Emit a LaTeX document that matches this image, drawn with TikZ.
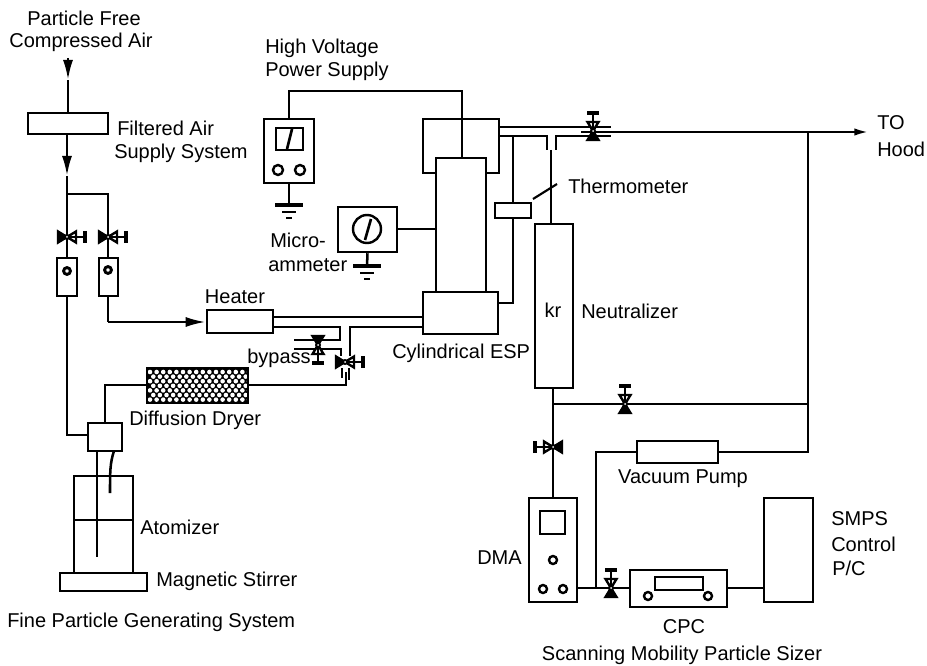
\documentclass[tikz,border=0pt]{standalone}
\usepackage{fontspec}
\setmainfont{Liberation Sans}
\usetikzlibrary{fit,arrows.meta}
\tikzset{
  eq/.style={draw=black,line width=1.9pt,fill=white,inner sep=0pt,rectangle},
  pipe/.style={draw=black,line width=1.9pt,line join=miter},
  lab/.style={inner sep=0pt,font=\fontsize{15}{17}\selectfont,text=black},
  flow/.style={pipe,-{Latex[length=15pt,width=7.5pt]}}
}
% box from two corners, as a named node
\newcommand\bx[5]{\coordinate (#1a) at (#2,#3);\coordinate (#1b) at (#4,#5);\node[eq,fit=(#1a)(#1b)] (#1) {};}
% valve: name x y rotation (rotation 0 = handle up)
\newcommand\valve[4]{\coordinate (#1) at (#2,#3);
  \begin{scope}[shift={(#2,#3)},rotate=#4]
    \draw[line width=1.8pt,fill=white] (0,0) -- (-5.5,-9) -- (5.5,-9) -- cycle;
    \draw[line width=1.8pt,fill=black] (0,0) -- (-5.5,9) -- (5.5,9) -- cycle;
    \draw[line width=1.9pt] (0,0) -- (0,-18);
    \draw[line width=2.3pt] (-6,-18) -- (6,-18);
    \fill[black] (0,0) circle (3);
    \fill[white] (0,0) circle (1);
  \end{scope}}
\newcommand\gnd[2]{\draw[line width=2.3pt] (#1-14,#2) -- (#1+14,#2);
  \draw[line width=2pt] (#1-7,#2+7) -- (#1+7,#2+7);
  \draw[line width=2pt] (#1-3,#2+13) -- (#1+3,#2+13);}
\begin{document}
\begin{tikzpicture}[x=0.75pt,y=-0.75pt]
\useasboundingbox[fill=white] (0,0) rectangle (927,666);

% ---------- equipment
\bx{filter}{28}{113}{108}{134}
\bx{fmL}{57}{258}{77}{296}
\bx{fmR}{99}{258}{118}{296}
\bx{heater}{207}{310}{273}{333}
\bx{dryer}{147}{368}{248}{403}
\bx{mixer}{88}{423}{122}{451}
\bx{plate}{60}{573}{147}{591}
\bx{hv}{264}{119}{314}{183}
\bx{micro}{338}{207}{397}{252}
\bx{esptop}{423}{119}{499}{173}
\bx{espbot}{423}{292}{498}{334}
\bx{thermo}{495}{203}{531}{218}
\bx{neut}{535}{224}{573}{388}
\bx{pump}{637}{441}{718}{463}
\bx{dma}{529}{498}{577}{602}
\bx{cpc}{630}{570}{727}{607}
\bx{smps}{764}{498}{813}{602}

% ---------- dryer packing
\begin{scope}
  \clip (147,368) rectangle (248,403);
  \fill[black] (147,368) rectangle (248,403);
  \foreach \r in {0,...,6}{
    \foreach \c in {0,...,15}{
      \pgfmathsetmacro{\px}{150+\c*6.6+mod(\r,2)*3.3}
      \pgfmathsetmacro{\py}{372+\r*4.6}
      \fill[white] (\px,\py) circle (2.3);
    }
  }
\end{scope}
\draw[black,line width=1.9pt] (147,368) rectangle (248,403);

% ---------- air supply
\coordinate (in) at (68,58);
\coordinate (a1) at (68,80);
\coordinate (a2) at (67,176);
\coordinate (j1) at (67,194);
\coordinate (j2) at (108,194);
\coordinate (j3) at (67,435);
\coordinate (h1) at (108,322);
\draw[flow] (in) -- (a1);
\draw[pipe] (a1) -- (filter.north -| a1);
\draw[flow] (filter.south -| a2) -- (a2);
\draw[pipe] (a2) -- (j1) -- (fmL.north -| j1);
\draw[pipe] (j1) -- (j2) -- (fmR.north -| j2);
\draw[pipe] (fmL.south -| j1) -- (j3) -- (mixer.west |- j3);
\draw[pipe] (fmR.south -| h1) -- (h1);
\draw[flow] (h1) -- (heater.west |- h1);
\valve{vL}{67}{237}{-90}
\valve{vR}{108}{237}{-90}
\draw[line width=2.2pt,fill=white] (67,271) circle (3.4);
\draw[line width=2.2pt,fill=white] (108,270) circle (3.4);

% ---------- heater / bypass
\coordinate (h2) at (273,317); \coordinate (h3) at (423,317);
\coordinate (h4) at (273,327); \coordinate (h5) at (340,327);
\coordinate (h6) at (340,340); \coordinate (h7) at (294,340);
\coordinate (b1) at (294,349); \coordinate (b2) at (341,349);
\coordinate (b3) at (341,356);
\coordinate (e1) at (423,327); \coordinate (e2) at (350,327);
\coordinate (e3) at (350,356);
\draw[pipe] (h2) -- (h3);
\draw[pipe] (h4) -- (h5) -- (h6) -- (h7);
\draw[pipe] (b1) -- (b2) -- (b3);
\draw[pipe] (e1) -- (e2) -- (e3);
\valve{vB}{318}{345}{180}
\valve{vD}{345}{362}{-90}
\coordinate (d1) at (346,385);
\coordinate (d2) at (342,368); \coordinate (d3) at (342,378);
\coordinate (d4) at (349,368); \coordinate (d5) at (349,380);
\draw[pipe] (dryer.east |- d1) -- (d1) -- (346,372);
\draw[pipe] (d2) -- (d3);
\draw[pipe] (d4) -- (d5);
\coordinate (d6) at (105,385);
\draw[pipe] (dryer.west |- d6) -- (d6) -- (mixer.north -| d6);

% ---------- atomizer
\coordinate (t1) at (97,451); \coordinate (t2) at (97,557);
\coordinate (c1) at (114,451); \coordinate (c2) at (110,493);
\draw[eq] (74,476) rectangle (133,573);
\draw[pipe] (74,520) -- (133,520);
\draw[pipe] (t1) -- (t2);
\draw[pipe] (c1) .. controls (110,463) and (110,472) .. (c2);

% ---------- power supply
\coordinate (v1) at (289,91); \coordinate (v2) at (462,91);
\coordinate (v3) at (462,158);
\draw[pipe] (hv.north) -- (v1) -- (v2) -- (v3);
\coordinate (g1) at (289,205);
\draw[pipe] (hv.south) -- (g1);
\gnd{289}{205}
\draw[eq] (276,128) rectangle (303,150);
\draw[line width=2pt] (292,129) -- (287,149);
\draw[line width=1.8pt,fill=white] (278,170) circle (5);
\draw[line width=1.8pt,fill=white] (300,170) circle (5);
\coordinate (g2) at (367,266);
\draw[pipe] (micro.south) -- (g2);
\gnd{367}{266}
\draw[line width=1.8pt,fill=white] (367,229) circle (14);
\draw[line width=2pt] (371,219) -- (365,240);

% ---------- ESP column
\bx{cyl}{436}{158}{486}{292}
\coordinate (m1) at (436,229);
\draw[pipe] (micro.east |- m1) -- (m1);
\draw[pipe] (462,119) -- (v3);

% ---------- exhaust
\coordinate (x1) at (499,127); \coordinate (x2) at (611,127);
\coordinate (x3) at (499,136); \coordinate (x4) at (547,136);
\coordinate (x5) at (547,150); \coordinate (x6) at (556,150);
\coordinate (x7) at (556,136); \coordinate (x8) at (611,136);
\coordinate (x9) at (581,132); \coordinate (x10) at (869,132);
\coordinate (x11) at (551,150);
\draw[pipe] (x1) -- (x2);
\draw[pipe] (x3) -- (x4) -- (x5);
\draw[pipe] (x6) -- (x7) -- (x8);
\draw[pipe,-{Latex[length=11pt,width=5.5pt]}] (x9) -- (x10);
\valve{vH}{593}{131}{0}
\draw[pipe] (x11) -- (neut.north -| x11);
\coordinate (t3) at (513,136); \coordinate (t4) at (513,303);
\draw[pipe] (t3) -- (thermo.north -| t3);
\draw[pipe] (thermo.south -| t3) -- (t4) -- (espbot.east |- t4);
\coordinate (l1) at (533,199); \coordinate (l2) at (557,184);
\draw[line width=1.6pt] (l1) -- (l2);

% ---------- right-hand loop
\coordinate (r1) at (808,132); \coordinate (r2) at (808,452);
\coordinate (r3) at (808,404); \coordinate (r4) at (553,404);
\coordinate (r5) at (553,388); \coordinate (r6) at (553,498);
\coordinate (r7) at (596,452); \coordinate (r8) at (596,588);
\draw[pipe] (r1) -- (r2) -- (pump.east |- r2);
\draw[pipe] (r3) -- (r4);
\draw[pipe] (r5) -- (r6);
\valve{vN}{625}{404}{0}
\valve{vM}{553}{447}{90}
\draw[pipe] (pump.west |- r7) -- (r7) -- (r8);
\coordinate (q1) at (577,588);
\draw[pipe] (q1) -- (cpc.west |- q1);
\draw[pipe] (cpc.east |- q1) -- (smps.west |- q1);
\valve{vC}{611}{588}{0}
\draw[eq] (540,511) rectangle (565,534);
\draw[line width=1.8pt,fill=white] (553,560) circle (4);
\draw[line width=1.8pt,fill=white] (543,589) circle (4);
\draw[line width=1.8pt,fill=white] (563,589) circle (4);
\draw[eq] (655,577) rectangle (703,590);
\draw[line width=1.8pt,fill=white] (648,596) circle (4);
\draw[line width=1.8pt,fill=white] (708,596) circle (4);

% ---------- labels
\node[lab] (t01) at (84,18) {Particle Free};
\node[lab] (t02) at (81,42) {Compressed Air};
\node[lab,anchor=west] (t03) at (117,128) {Filtered Air};
\node[lab,anchor=west] (t04) at (114,153) {Supply System};
\node[lab,anchor=west] (t05) at (265,48) {High Voltage};
\node[lab,anchor=west] (t06) at (265,71) {Power Supply};
\node[lab,anchor=west] (t07) at (270,240) {Micro-};
\node[lab,anchor=west] (t08) at (268,265) {ammeter};
\node[lab] (t09) at (235,297) {Heater};
\node[lab,anchor=west] (t10) at (247,358) {bypass};
\node[lab,anchor=west] (t11) at (392,353) {Cylindrical ESP};
\node[lab,anchor=west] (t12) at (129,420) {Diffusion Dryer};
\node[lab,anchor=west] (t13) at (140,527) {Atomizer};
\node[lab,anchor=west] (t14) at (156,581) {Magnetic Stirrer};
\node[lab,anchor=west] (t15) at (7,622) {Fine Particle Generating System};
\node[lab,anchor=west] (t16) at (568,186) {Thermometer};
\node[lab] (t17) at (553,310) {kr};
\node[lab,anchor=west] (t18) at (581,311) {Neutralizer};
\node[lab] (t19) at (683,479) {Vacuum Pump};
\node[lab,anchor=east] (t20) at (522,558) {DMA};
\node[lab] (t21) at (684,627) {CPC};
\node[lab] (t22) at (682,655) {Scanning Mobility Particle Sizer};
\node[lab,anchor=west] (t23) at (831,519) {SMPS};
\node[lab,anchor=west] (t24) at (831,544) {Control};
\node[lab,anchor=west] (t25) at (832,568) {P/C};
\node[lab,anchor=west] (t26) at (877,123) {TO};
\node[lab,anchor=west] (t27) at (877,149) {Hood};
\end{tikzpicture}
\end{document}
